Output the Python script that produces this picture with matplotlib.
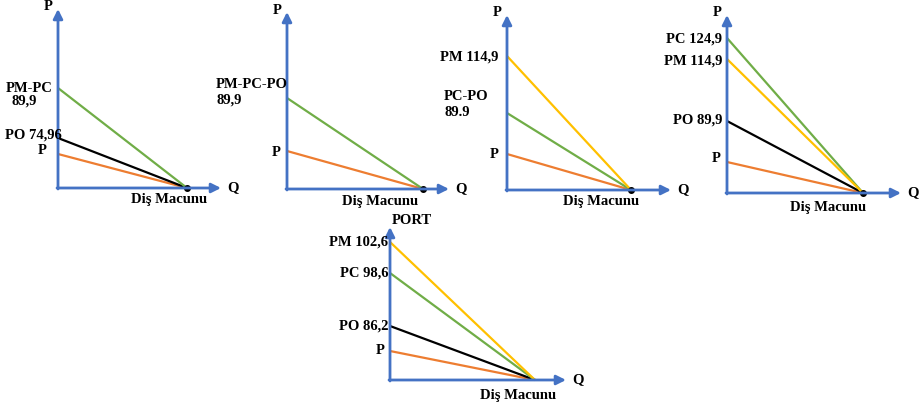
import matplotlib.pyplot as plt

# price labels on each diagram (text as written on the chart)
labels_1 = ["PM-PC", "89,9", "PO 74,96", "P"]
labels_2 = ["PM-PC-PO", "89,9", "P"]
labels_3 = ["PM 114,9", "PC-PO", "89.9", "P"]
labels_4 = ["PC 124,9", "PM 114,9", "PO 89,9", "P"]
labels_5 = ["PM 102,6", "PC 98,6", "PO 86,2", "P"]

# intercept heights of the demand lines above the origin (pixels of the schematic)
green_h = [100, 91, 77, 155, 107]
black_h = [50, None, None, 72, 54]
orange_h = [34, 38, 36, 31, 29]
yellow_h = [None, None, 134, 134, 138]

BLUE = "#4472C4"
GREEN = "#70AD47"
ORANGE = "#ED7D31"
YELLOW = "#FFC000"
FONT = dict(family="Liberation Serif", weight="bold", fontsize=10.5, color="black")

# layout: origin, end of lines on Q axis, y-axis top, x-axis tip, y-axis title, product label position
panels = [
    dict(o=(58, 188), qx=187, top=9, tip=221, ytitle="P", dot=True, name=(169, 200)),
    dict(o=(287, 189), qx=423, top=12, tip=449, ytitle="P", dot=True, name=(380, 201)),
    dict(o=(507, 190), qx=631, top=15, tip=671, ytitle="P", dot=True, name=(601, 202)),
    dict(o=(727, 193), qx=863, top=15, tip=901, ytitle="P", dot=True, name=(828, 208)),
    dict(o=(390, 380), qx=535, top=227, tip=566, ytitle="PORT", dot=False, name=(518, 396)),
]

fig = plt.figure(figsize=(9.21, 4.08), dpi=100)
ax = fig.add_axes([0, 0, 1, 1])
ax.set_xlim(0, 921)
ax.set_ylim(408, 0)
ax.axis("off")

for i, p in enumerate(panels):
    ox, oy = p["o"]
    # axes with arrows
    arrow = dict(arrowstyle="-|>", color=BLUE, lw=2, mutation_scale=14, shrinkA=0, shrinkB=0)
    ax.annotate("", xy=(ox, p["top"]), xytext=(ox, oy + 1), arrowprops=arrow)
    ax.annotate("", xy=(p["tip"], oy), xytext=(ox - 1, oy), arrowprops=arrow)
    # demand lines
    for h, c in [(orange_h[i], ORANGE), (black_h[i], "black"), (green_h[i], GREEN), (yellow_h[i], YELLOW)]:
        if h is None:
            continue
        ax.plot([ox, p["qx"]], [oy - h, oy], color=c, lw=1.6, solid_capstyle="butt")
    if p["dot"]:
        ax.plot(p["qx"], oy, "o", color="black", ms=4)
    # axis titles
    if p["ytitle"] == "P":
        ax.text(ox - 10, p["top"] - 2, "P", ha="center", va="center", **FONT)
    else:
        ax.text(ox + 2, p["top"] - 6, p["ytitle"], ha="left", va="center", **FONT)
    ax.text(p["tip"] + 12, oy, "Q", ha="center", va="center", **FONT)
    ax.text(p["name"][0], p["name"][1], "Diş Macunu", ha="center", va="center", **FONT)

# price labels next to the vertical axes
ax.text(6, 88, labels_1[0], ha="left", va="center", **FONT)
ax.text(11, 101, labels_1[1], ha="left", va="center", **FONT)
ax.text(5, 135, labels_1[2], ha="left", va="center", **FONT)
ax.text(38, 150, labels_1[3], ha="left", va="center", **FONT)

ax.text(216, 85, labels_2[0], ha="left", va="center", **FONT)
ax.text(216, 100, labels_2[1], ha="left", va="center", **FONT)
ax.text(272, 152, labels_2[2], ha="left", va="center", **FONT)

ax.text(440, 57, labels_3[0], ha="left", va="center", **FONT)
ax.text(444, 97, labels_3[1], ha="left", va="center", **FONT)
ax.text(444, 113, labels_3[2], ha="left", va="center", **FONT)
ax.text(490, 154, labels_3[3], ha="left", va="center", **FONT)

ax.text(722, 39, labels_4[0], ha="right", va="center", **FONT)
ax.text(722, 61, labels_4[1], ha="right", va="center", **FONT)
ax.text(722, 120, labels_4[2], ha="right", va="center", **FONT)
ax.text(712, 158, labels_4[3], ha="left", va="center", **FONT)

ax.text(388, 242, labels_5[0], ha="right", va="center", **FONT)
ax.text(388, 273, labels_5[1], ha="right", va="center", **FONT)
ax.text(388, 326, labels_5[2], ha="right", va="center", **FONT)
ax.text(376, 351, labels_5[3], ha="left", va="center", **FONT)

fig.savefig("out.png", dpi=100, facecolor="white")
